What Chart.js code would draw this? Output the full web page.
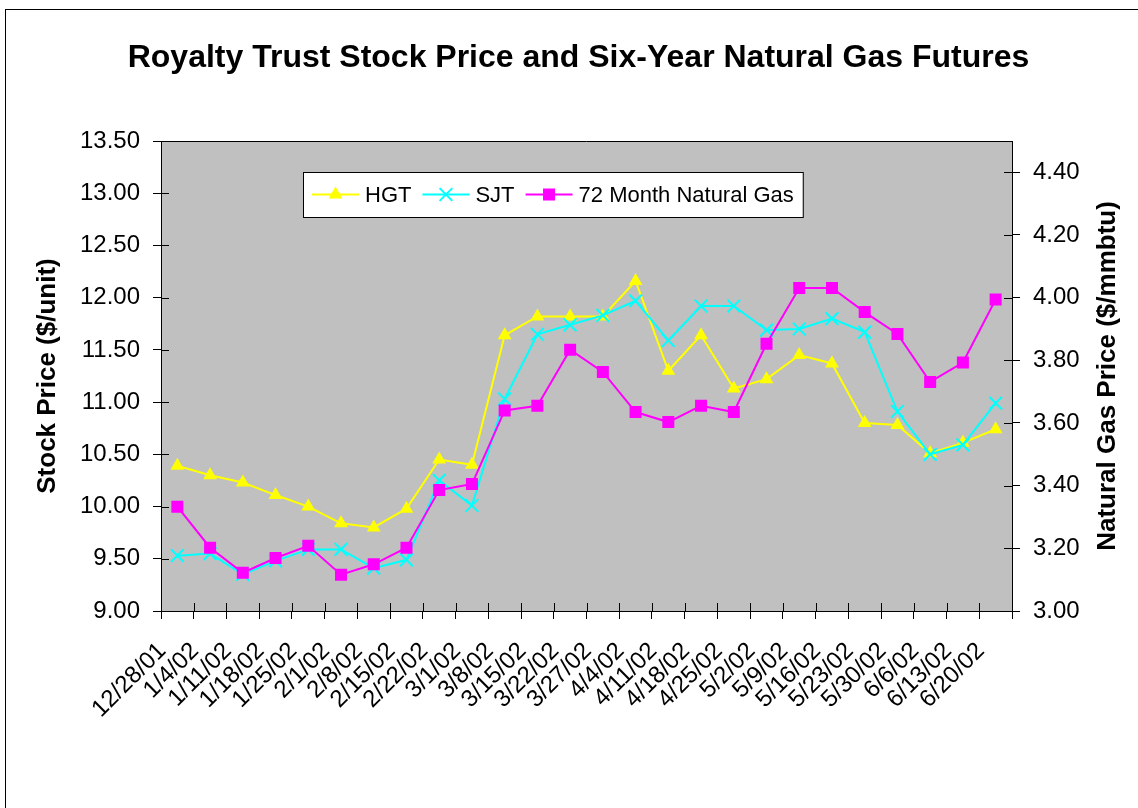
<!DOCTYPE html>
<html><head><meta charset="utf-8">
<script src="https://cdn.jsdelivr.net/npm/chart.js@4.4.1/dist/chart.umd.min.js"></script>
<style>html,body{margin:0;padding:0;background:#fff}#wrap{width:1138px;height:808px;position:relative}canvas{display:block}</style>
</head><body><div id="wrap"><canvas id="c" width="1138" height="808"></canvas></div>
<script>
const categories = ['12/28/01','1/4/02','1/11/02','1/18/02','1/25/02','2/1/02','2/8/02','2/15/02','2/22/02','3/1/02','3/8/02','3/15/02','3/22/02','3/27/02','4/4/02','4/11/02','4/18/02','4/25/02','5/2/02','5/9/02','5/16/02','5/23/02','5/30/02','6/6/02','6/13/02','6/20/02'];
const hgt = [10.39,10.30,10.23,10.11,10.00,9.84,9.80,9.98,10.45,10.40,11.64,11.82,11.82,11.82,12.16,11.30,11.64,11.13,11.22,11.45,11.37,10.80,10.78,10.51,10.61,10.74];
const sjt = [9.53,9.55,9.35,9.48,9.59,9.59,9.41,9.49,10.25,10.01,11.03,11.65,11.74,11.83,11.97,11.59,11.92,11.92,11.69,11.70,11.80,11.67,10.91,10.50,10.59,10.99];
const gas72 = [3.333,3.202,3.122,3.169,3.208,3.116,3.149,3.202,3.386,3.405,3.640,3.655,3.834,3.763,3.635,3.603,3.655,3.635,3.853,4.031,4.031,3.954,3.884,3.731,3.793,3.994];
const leftTicks = [9.0,9.5,10.0,10.5,11.0,11.5,12.0,12.5,13.0,13.5];
const rightTicks = [3.0,3.2,3.4,3.6,3.8,4.0,4.2,4.4];
const seriesNames = ['HGT','SJT','72 Month Natural Gas'];
const titleText = 'Royalty Trust Stock Price and Six-Year Natural Gas Futures';
const leftTitle = 'Stock Price ($/unit)';
const rightTitle = 'Natural Gas Price ($/mmbtu)';

const FONT = '"Liberation Sans", Arial, sans-serif';
Chart.defaults.font.family = FONT;
Chart.defaults.color = '#000';

function drawMarker(ctx, style, x, y, r, color) {
  ctx.save();
  ctx.fillStyle = color; ctx.strokeStyle = color; ctx.lineWidth = 2;
  ctx.beginPath();
  if (style === 'triangle') {
    let a = 0;
    ctx.moveTo(x + Math.sin(a) * r, y - Math.cos(a) * r);
    a += 2 * Math.PI / 3; ctx.lineTo(x + Math.sin(a) * r, y - Math.cos(a) * r);
    a += 2 * Math.PI / 3; ctx.lineTo(x + Math.sin(a) * r, y - Math.cos(a) * r);
    ctx.closePath(); ctx.fill();
  } else if (style === 'rect') {
    const s = r * Math.SQRT1_2; ctx.fillRect(x - s, y - s, 2 * s, 2 * s);
  } else {
    const s = r * Math.SQRT1_2;
    ctx.moveTo(x - s, y - s); ctx.lineTo(x + s, y + s);
    ctx.moveTo(x + s, y - s); ctx.lineTo(x - s, y + s); ctx.stroke();
  }
  ctx.restore();
}

const decor = {
  id: 'decor',
  beforeDraw(chart) {
    const {ctx, chartArea: a} = chart;
    ctx.save();
    ctx.fillStyle = '#fff'; ctx.fillRect(0, 0, chart.width, chart.height);
    ctx.strokeStyle = '#000'; ctx.lineWidth = 1;
    ctx.strokeRect(5.5, 9.5, 1300, 1000);
    ctx.fillStyle = '#C0C0C0';
    ctx.fillRect(a.left, a.top, a.right - a.left, a.bottom - a.top);
    ctx.restore();
  },
  beforeDatasetsDraw(chart) {
    const {ctx, chartArea: a, scales} = chart;
    ctx.save();
    ctx.strokeStyle = '#000'; ctx.lineWidth = 1;
    ctx.beginPath();
    ctx.moveTo(a.left, a.top + 0.5); ctx.lineTo(a.right, a.top + 0.5);
    const x = scales.x;
    const half = (x.getPixelForValue(1) - x.getPixelForValue(0)) / 2;
    for (let i = 0; i <= categories.length; i++) {
      const px = Math.round(x.getPixelForValue(i) - half) + 0.5;
      ctx.moveTo(px, a.bottom); ctx.lineTo(px, a.bottom - 8);
    }
    scales.y.ticks.forEach(t => {
      const py = Math.round(scales.y.getPixelForValue(t.value)) + 0.5;
      ctx.moveTo(a.left, py); ctx.lineTo(a.left + 8, py);
    });
    scales.y2.ticks.forEach(t => {
      const py = Math.round(scales.y2.getPixelForValue(t.value)) + 0.5;
      ctx.moveTo(a.right, py); ctx.lineTo(a.right - 8, py);
    });
    ctx.stroke();
    ctx.restore();
  },
  afterDraw(chart) {
    const {ctx, chartArea: a} = chart;
    ctx.save();
    ctx.font = 'bold 26px ' + FONT;
    ctx.fillStyle = '#000'; ctx.textAlign = 'center'; ctx.textBaseline = 'middle';
    ctx.translate(1108, (a.top + a.bottom) / 2);
    ctx.rotate(-Math.PI / 2);
    ctx.fillText(rightTitle, 0, 0);
    ctx.restore();

    ctx.save();
    ctx.font = '22px ' + FONT;
    const ds = chart.data.datasets;
    const bx = 303, by = 172, bh = 45, cy = by + bh / 2;
    let x = 312;
    const items = [];
    ds.forEach(d => {
      const w = ctx.measureText(d.label).width;
      items.push({d, x, w});
      x += 53 + w + 11;
    });
    const bw = (x - 11 + 9) - bx;
    ctx.fillStyle = '#fff'; ctx.fillRect(bx, by, bw, bh);
    ctx.strokeStyle = '#000'; ctx.lineWidth = 1; ctx.strokeRect(bx + 0.5, by + 0.5, bw, bh);
    items.forEach(it => {
      const d = it.d;
      ctx.strokeStyle = d.borderColor; ctx.lineWidth = 2;
      ctx.beginPath(); ctx.moveTo(it.x, cy); ctx.lineTo(it.x + 47, cy); ctx.stroke();
      drawMarker(ctx, d.pointStyle, it.x + 23.5, cy, d.pointRadius, d.borderColor);
      ctx.fillStyle = '#000'; ctx.textAlign = 'left'; ctx.textBaseline = 'middle';
      ctx.fillText(d.label, it.x + 53, cy + 1);
    });
    ctx.restore();
  }
};

const lineCommon = {borderWidth: 2, tension: 0, pointBorderWidth: 2, pointHoverRadius: 0};

new Chart(document.getElementById('c'), {
  type: 'line',
  data: {
    labels: categories,
    datasets: [
      Object.assign({label: seriesNames[0], data: hgt, yAxisID: 'y', borderColor: '#FFFF00', backgroundColor: '#FFFF00', pointBackgroundColor: '#FFFF00', pointBorderColor: '#FFFF00', pointStyle: 'triangle', pointRadius: 8, order: 2}, lineCommon, {pointBorderWidth: 0}),
      Object.assign({label: seriesNames[1], data: sjt, yAxisID: 'y', borderColor: '#00FFFF', backgroundColor: '#00FFFF', pointBackgroundColor: '#00FFFF', pointBorderColor: '#00FFFF', pointStyle: 'crossRot', pointRadius: 9, order: 1}, lineCommon),
      Object.assign({label: seriesNames[2], data: gas72, yAxisID: 'y2', borderColor: '#FF00FF', backgroundColor: '#FF00FF', pointBackgroundColor: '#FF00FF', pointBorderColor: '#FF00FF', pointStyle: 'rect', pointRadius: 8.5, order: 0}, lineCommon, {pointBorderWidth: 0})
    ]
  },
  options: {
    responsive: false,
    animation: false,
    devicePixelRatio: 1,
    events: [],
    layout: {padding: {left: 19, right: 0, top: 0, bottom: 0}},
    plugins: {
      legend: {display: false},
      tooltip: {enabled: false},
      title: {display: true, text: titleText, color: '#000', font: {size: 32, weight: 'bold', family: FONT}, padding: {top: 39, bottom: 63.6}}
    },
    scales: {
      x: {
        type: 'category', offset: true,
        grid: {offset: true, drawOnChartArea: false, drawTicks: true, tickLength: 8, color: '#000', lineWidth: 1},
        border: {display: true, color: '#000', width: 1},
        ticks: {autoSkip: false, maxRotation: 45, minRotation: 45, color: '#000', font: {size: 24, family: FONT}, padding: 18, labelOffset: -15},
        afterFit: s => { s.height = 197; }
      },
      y: {
        type: 'linear', position: 'left', min: 9, max: 13.5,
        afterBuildTicks: s => { s.ticks = leftTicks.map(v => ({value: v})); },
        grid: {drawOnChartArea: false, tickLength: 8, color: '#000', lineWidth: 1},
        border: {display: true, color: '#000', width: 1},
        ticks: {color: '#000', font: {size: 24, family: FONT}, padding: 13, callback: v => Number(v).toFixed(2)},
        title: {display: true, text: leftTitle, color: '#000', font: {size: 26, weight: 'bold', family: FONT}, padding: {top: 13, bottom: 0}},
        afterFit: s => { s.width = 142; }
      },
      y2: {
        type: 'linear', position: 'right', min: 3, max: 4.5,
        afterBuildTicks: s => { s.ticks = rightTicks.map(v => ({value: v})); },
        grid: {drawOnChartArea: false, tickLength: 8, color: '#000', lineWidth: 1},
        border: {display: true, color: '#000', width: 1},
        ticks: {color: '#000', font: {size: 24, family: FONT}, padding: 13, callback: v => Number(v).toFixed(2)},
        afterFit: s => { s.width = 126; }
      }
    }
  },
  plugins: [decor]
});
</script></body></html>
